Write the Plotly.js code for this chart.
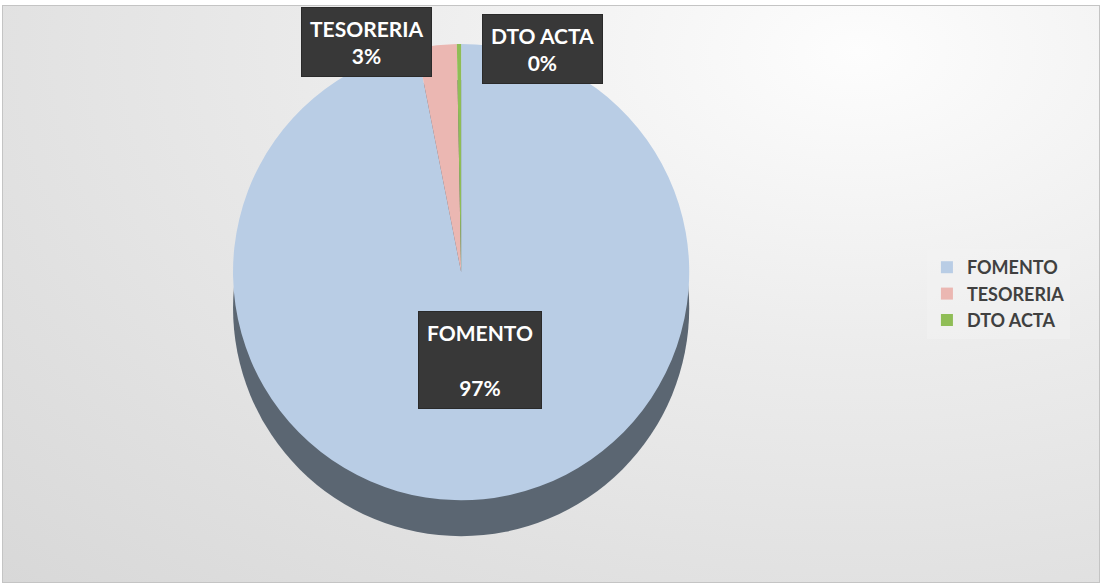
<!DOCTYPE html>
<html>
<head>
<meta charset="utf-8">
<script src="https://cdn.plot.ly/plotly-3.0.1.min.js"></script>
<style>
  html, body { margin: 0; padding: 0; background: #ffffff; }
  #frame {
    position: absolute; left: 2px; top: 5px; width: 1096px; height: 576px;
    border: 1px solid #c4c4c4;
    background: radial-gradient(ellipse at 78% 8%, #fdfdfd 0%, #ececec 40%, #e0e0e0 75%, #d8d8d8 100%);
  }
  #chart { position: absolute; left: 0; top: 0; width: 1096px; height: 576px; }
</style>
</head>
<body>
<div id="frame"><div id="chart"></div></div>
<script>
// ---- data ----
const categories = ["FOMENTO", "TESORERIA", "DTO ACTA"];
const values = [96.9, 2.8, 0.3];
const sliceColors = ["#b9cde5", "#ebb7b2", "#8fbd56"];

const total = values.reduce((a, b) => a + b, 0);
const pctText = values.map(v => Math.round(v / total * 100) + "%");

const pieDomain = { x: [0.2, 0.636], y: [0.142, 0.934] };

const trace = {
  type: "pie",
  labels: categories,
  values: values,
  sort: false,
  direction: "clockwise",
  rotation: 0,
  textinfo: "none",
  hoverinfo: "label+percent",
  marker: { colors: sliceColors, line: { color: "rgba(255,255,255,0)", width: 0 } },
  domain: pieDomain
};

// label boxes (positions only; text from data)
const boxPos = [
  { x: 0.435, y: 0.385, sep: "<br><br>" },
  { x: 0.332, y: 0.937, sep: "<br>" },
  { x: 0.492, y: 0.925, sep: "<br>" }
];
const annotations = categories.map((c, i) => ({
  xref: "paper", yref: "paper",
  x: boxPos[i].x, y: boxPos[i].y,
  xanchor: "center", yanchor: "middle",
  showarrow: false,
  text: "<b>" + c + boxPos[i].sep + pctText[i] + "</b>",
  font: { family: "Lato, 'Open Sans', sans-serif", size: 21, color: "#ffffff" },
  bgcolor: "#383838",
  bordercolor: "#2a2a2a",
  borderwidth: 1,
  borderpad: 8,
  align: "center"
}));

// 3D side of the pie (decorative rim under the top face)
const W = 1096, H = 576;
const cx = (pieDomain.x[0] + pieDomain.x[1]) / 2 * W;
const cyTop = (1 - (pieDomain.y[0] + pieDomain.y[1]) / 2) * H;
const r = Math.min((pieDomain.x[1] - pieDomain.x[0]) * W, (pieDomain.y[1] - pieDomain.y[0]) * H) / 2;
const depth = 36;
const rim = {
  type: "circle", layer: "below",
  xref: "paper", yref: "paper",
  x0: (cx - r) / W, x1: (cx + r) / W,
  y0: 1 - (cyTop + depth + r) / H, y1: 1 - (cyTop + depth - r) / H,
  fillcolor: "#5b6672", line: { width: 0 }
};

const layout = {
  width: W, height: H,
  margin: { l: 0, r: 0, t: 0, b: 0 },
  paper_bgcolor: "rgba(0,0,0,0)",
  plot_bgcolor: "rgba(0,0,0,0)",
  showlegend: true,
  legend: {
    x: 0.843, y: 0.5, xanchor: "left", yanchor: "middle",
    bgcolor: "rgba(242,242,242,0.55)",
    font: { family: "Lato, 'Open Sans', sans-serif", size: 18, color: "#404040", weight: "bold" },
    traceorder: "normal",
    itemwidth: 30
  },
  shapes: [rim],
  annotations: annotations
};

Plotly.newPlot("chart", [trace], layout, { displayModeBar: false, staticPlot: true });
</script>
</body>
</html>
